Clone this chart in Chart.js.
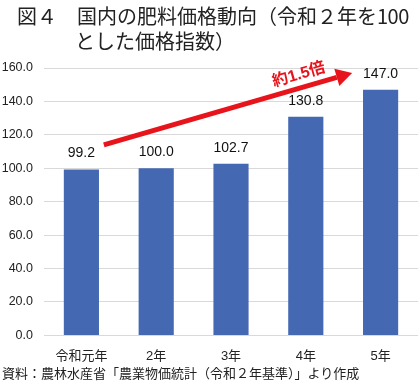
<!DOCTYPE html>
<html>
<head>
<meta charset="utf-8">
<script src="https://cdn.jsdelivr.net/npm/chart.js@4.4.1/dist/chart.umd.min.js"></script>
<style>
  body { margin: 0; background: #fff; }
  #wrap { position: relative; width: 420px; height: 385px; }
  canvas { position: absolute; left: 0; top: 0; }
  .title { position: absolute; font-family: "Noto Sans CJK JP", sans-serif; font-size: 20px; color: #222; white-space: nowrap; line-height: 1; }
  .src { position: absolute; left: 2px; top: 366px; font-family: "Noto Sans CJK JP", sans-serif; font-size: 13px; color: #222; white-space: nowrap; line-height: 1; }
</style>
</head>
<body>
<div id="wrap">
  <canvas id="myChart" width="420" height="385"></canvas>
  <div class="title" style="left:17px; top:6px;">図４　国内の肥料価格動向（令和２年を<span style="letter-spacing:-0.5px">100</span></div>
  <div class="title" style="left:75px; top:31px;">とした価格指数）</div>
  <div class="src">資料：農林水産省「農業物価統計（令和２年基準）」より作成</div>
</div>
<script>
var labels = ["令和元年", "2年", "3年", "4年", "5年"];
var values = [99.2, 100.0, 102.7, 130.8, 147.0];
var yTicks = [0, 20, 40, 60, 80, 100, 120, 140, 160];

// arrow in data units: [category index, value]
var arrowFrom = [0.3, 114];
var arrowTo = [3.62, 157];
var arrowText = "約1.5倍";

var numFont = '"Liberation Sans", "Noto Sans CJK JP", sans-serif';

var valueLabels = {
    id: "valueLabels",
    afterDatasetsDraw: function(chart){
        var ctx = chart.ctx;
        var meta = chart.getDatasetMeta(0);
        ctx.save();
        ctx.font = "14px " + numFont;
        ctx.fillStyle = "#111";
        ctx.textAlign = "center";
        ctx.textBaseline = "bottom";
        meta.data.forEach(function(bar, i){
            ctx.fillText(values[i].toFixed(1), bar.x, bar.y - 9);
        });
        ctx.restore();
    }
};

var arrowPlugin = {
    id: "arrowPlugin",
    afterDatasetsDraw: function(chart){
        var ctx = chart.ctx;
        var xs = chart.scales.x, ys = chart.scales.y;
        var step = xs.getPixelForValue(1) - xs.getPixelForValue(0);
        var x1 = xs.getPixelForValue(0) + arrowFrom[0] * step;
        var y1 = ys.getPixelForValue(arrowFrom[1]);
        var x2 = xs.getPixelForValue(0) + arrowTo[0] * step;
        var y2 = ys.getPixelForValue(arrowTo[1]);
        var ang = Math.atan2(y2 - y1, x2 - x1);
        var headLen = 16, headW = 9;
        var bx = x2 - headLen * Math.cos(ang), by = y2 - headLen * Math.sin(ang);
        ctx.save();
        ctx.strokeStyle = "#e8141b";
        ctx.fillStyle = "#e8141b";
        ctx.lineWidth = 5;
        ctx.beginPath();
        ctx.moveTo(x1, y1);
        ctx.lineTo(bx, by);
        ctx.stroke();
        ctx.beginPath();
        ctx.moveTo(x2, y2);
        ctx.lineTo(bx + headW * Math.sin(ang), by - headW * Math.cos(ang));
        ctx.lineTo(bx - headW * Math.sin(ang), by + headW * Math.cos(ang));
        ctx.closePath();
        ctx.fill();
        // label
        var mx = x1 + (x2 - x1) * 0.8, my = y1 + (y2 - y1) * 0.8;
        ctx.translate(mx, my);
        ctx.rotate(ang);
        ctx.font = "bold 16px " + numFont;
        ctx.textAlign = "center";
        ctx.textBaseline = "bottom";
        ctx.fillText(arrowText, 0, -5);
        ctx.restore();
    }
};

var graph = new Chart("myChart", {
    type: "bar",
    data: {
        labels: labels,
        datasets: [{
            data: values,
            backgroundColor: "#4568b2",
            categoryPercentage: 1.0,
            barPercentage: 0.47
        }]
    },
    options: {
        responsive: false,
        animation: false,
        layout: {padding: {top: 68, left: 0, right: 2, bottom: 8}},
        plugins: {
            legend: {display: false},
            tooltip: {enabled: false}
        },
        scales: {
            x: {
                grid: {display: false, drawTicks: false},
                border: {display: false},
                ticks: {
                    color: "#222",
                    padding: 13,
                    font: {family: numFont, size: 13}
                }
            },
            y: {
                min: 0,
                max: 160,
                afterBuildTicks: function(axis){
                    axis.ticks = yTicks.map(function(v){ return {value: v}; });
                },
                afterFit: function(axis){
                    axis.width = 44;
                },
                grid: {color: "#d9d9d9", drawTicks: false},
                border: {display: false},
                ticks: {
                    color: "#222",
                    padding: 11,
                    font: {family: numFont, size: 12.5},
                    callback: function(v){ return Number(v).toFixed(1); }
                }
            }
        }
    },
    plugins: [valueLabels, arrowPlugin]
});
</script>
</body>
</html>
